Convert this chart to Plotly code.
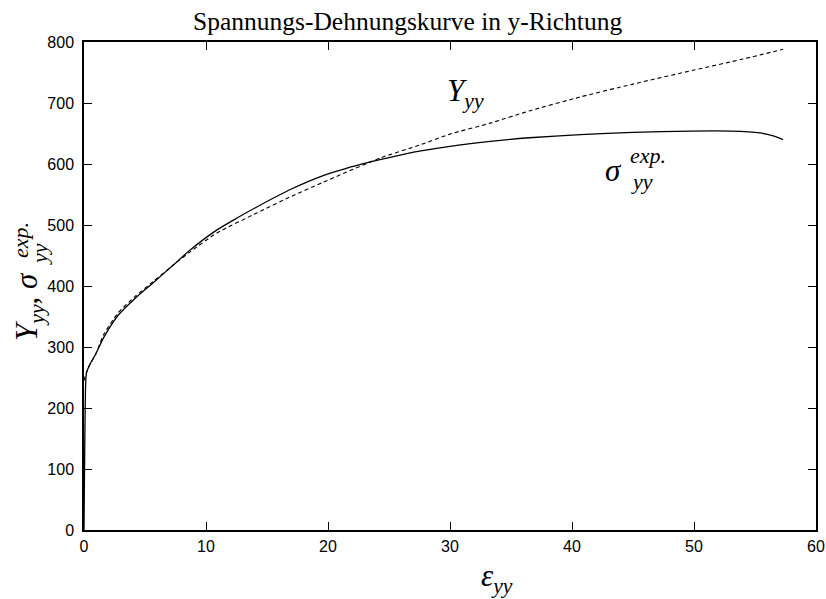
import plotly.graph_objects as go

# Experimental stress-strain curve (solid)
eps_exp = [0, 0.13, 0.2, 0.5, 1.0, 1.6, 2.8, 4.2, 5.65, 7.3, 8.7, 10.9,
           12.5, 14.2, 17.0, 19.6, 21.5, 23.4, 25.1, 27.5, 30.0, 33.3, 36.5, 40.7,
           45.0, 49.7, 53.0, 55.4, 56.5, 57.3]
sig_exp = [0, 235, 257, 272, 290, 315, 352, 380, 405, 434, 459, 492,
           511, 530, 559, 581, 593, 603, 611, 621, 629, 637, 643, 648,
           652, 654, 654, 651, 646, 640]

# Model curve Y_yy (dashed)
eps_mod = [0, 0.2, 0.5, 1.0, 1.6, 2.8, 4.2, 5.65, 7.3, 8.7, 10.9, 14.2, 17.0,
           19.6, 24.3, 27.5, 30.0, 33.3, 36.5, 40.7, 45.0, 50.0, 54.0, 57.3]
Y_mod = [245, 258, 272, 290, 320, 356, 383, 407, 434, 456, 487, 520, 547,
         570, 610, 631, 649, 667, 687, 710, 731, 754, 772, 788]

x_ticks = [0, 10, 20, 30, 40, 50, 60]
y_ticks = [0, 100, 200, 300, 400, 500, 600, 700, 800]

title_text = "Spannungs-Dehnungskurve in y-Richtung"

W, H = 826, 599
L, R, T, B = 84, 10, 42, 69
PW, PH = W - L - R, H - T - B

def px2paper(px, py):
    return (px - L) / PW, (H - B - py) / PH

fig = go.Figure()
fig.add_trace(go.Scatter(x=eps_exp, y=sig_exp, mode="lines",
                         line=dict(color="black", width=1.3, shape="spline", smoothing=0.6),
                         showlegend=False))
fig.add_trace(go.Scatter(x=eps_mod, y=Y_mod, mode="lines",
                         line=dict(color="black", width=1.1, dash="4px,3px",
                                   shape="spline", smoothing=0.6),
                         showlegend=False))

math_font = dict(family="Liberation Serif", size=31, color="black")
small_font = dict(family="Liberation Serif", size=22, color="black")

ann = []
# In-plot labels
ann.append(dict(x=29.6, y=716, xref="x", yref="y", showarrow=False, xanchor="left",
                yanchor="middle", text="<i>Y</i><sub><i>yy</i></sub>", font=math_font))
ann.append(dict(x=42.5, y=590, xref="x", yref="y", showarrow=False, xanchor="left",
                yanchor="middle", text="<i>σ</i>", font=math_font))
ann.append(dict(x=44.6, y=614, xref="x", yref="y", showarrow=False, xanchor="left",
                yanchor="middle", text="<i>exp.</i>", font=small_font))
ann.append(dict(x=44.7, y=571, xref="x", yref="y", showarrow=False, xanchor="left",
                yanchor="middle", text="<i>yy</i>", font=small_font))

# x-axis title
xp, yp = px2paper(497, 578)
ann.append(dict(x=xp, y=yp, xref="paper", yref="paper", showarrow=False,
                xanchor="center", yanchor="middle",
                text="<i>ε</i><sub><i>yy</i></sub>", font=math_font))

# y-axis title (rotated pieces)
xp, yp = px2paper(29, 307)
ann.append(dict(x=xp, y=yp, xref="paper", yref="paper", showarrow=False,
                xanchor="center", yanchor="middle", textangle=-90,
                text="<i>Y</i><sub><i>yy</i></sub>, <i>σ</i>", font=math_font))
xp, yp = px2paper(39, 254)
ann.append(dict(x=xp, y=yp, xref="paper", yref="paper", showarrow=False,
                xanchor="center", yanchor="middle", textangle=-90,
                text="<i>yy</i>", font=small_font))
xp, yp = px2paper(21, 240)
ann.append(dict(x=xp, y=yp, xref="paper", yref="paper", showarrow=False,
                xanchor="center", yanchor="middle", textangle=-90,
                text="<i>exp.</i>", font=small_font))

# Title
xp, yp = px2paper(407, 21)
ann.append(dict(x=xp, y=yp, xref="paper", yref="paper", showarrow=False,
                xanchor="center", yanchor="middle", text=title_text,
                font=dict(family="Liberation Serif", size=25.5, color="black")))

axis_common = dict(showline=True, linecolor="black", linewidth=1.5, mirror="ticks",
                   ticks="inside", ticklen=8, tickwidth=1, tickcolor="black",
                   showgrid=False, zeroline=False, automargin=False,
                   tickfont=dict(family="Liberation Sans", size=16, color="black"))

fig.update_layout(
    width=W, height=H,
    margin=dict(l=L, r=R, t=T, b=B, autoexpand=False),
    paper_bgcolor="white", plot_bgcolor="white",
    xaxis=dict(range=[0, 60], tickvals=x_ticks, ticktext=[str(v) for v in x_ticks],
               ticklabelstandoff=1, **axis_common),
    yaxis=dict(range=[0, 800], tickvals=y_ticks, ticktext=[str(v) for v in y_ticks],
               ticklabelstandoff=5, **axis_common),
    annotations=ann,
)

fig.write_html("out.html")
